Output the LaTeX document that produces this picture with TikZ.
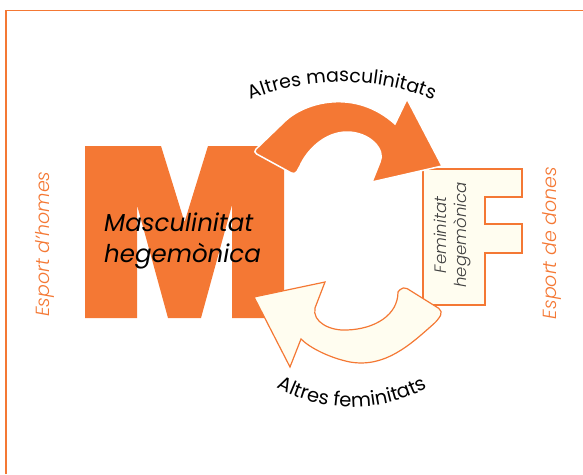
\documentclass[tikz,border=0pt]{standalone}
\usepackage{fontspec}
\setmainfont{Poppins}
\newfontfamily\poplight{Poppins Light}[ItalicFont={Poppins Light Italic}]
\usetikzlibrary{decorations.text}

\definecolor{mcorange}{RGB}{244,120,52}
\definecolor{fcream}{RGB}{255,253,240}

\tikzset{
  letterfill/.style={fill=fcream, draw=mcorange, line width=1.2pt},
  sidelabel/.style={rotate=90, inner sep=0, text=mcorange, font=\poplight\itshape\fontsize{19}{22}\selectfont},
  arclabel/.style={decorate, decoration={text along path, text align=center, text={#1}}}
}

\begin{document}
\begin{tikzpicture}[x=1pt, y=-1pt]
\useasboundingbox (0,0) rectangle (583,474);

% Frame (open to the right and bottom)
\draw[mcorange, line width=1.3pt] (6,474) -- (6,10.5) -- (583,10.5);

% Side labels
\node[sidelabel] (esphomes) at (45,244) {Esport d’homes};
\node[sidelabel] (espdones) at (552,243) {Esport de dones};

% Big letter M
\fill[mcorange] (85,318) -- (85,146) -- (161,146) -- (184.5,222) -- (208,146) -- (284,146)
  -- (284,318) -- (232,318) -- (232,205) -- (201,318) -- (168,318) -- (137,205) -- (137,318) -- cycle;

% Outlined letter F
\path[letterfill] (423,169) -- (522,169) -- (522,197) -- (485,197) -- (485,224) -- (522,224)
  -- (522,253) -- (485,253) -- (485,305) -- (423,305) -- cycle;
\node[rotate=90, align=center, inner sep=0, text=black!75, font=\poplight\itshape\fontsize{16.5}{20}\selectfont]
  (femheg) at (452,235) {Feminitat\\hegemònica};

% Upper arrow (M towards F)
\path[fill=mcorange, draw=white, line width=1.5pt]
  (300,166) [rounded corners=4pt] -- (295,175) -- (253,152) -- (282,124) [sharp corners]
  .. controls (305,102) and (355,88) .. (395,124)
  -- (407,99) -- (442,166) -- (372,182) -- (380,162)
  .. controls (386,150) and (370,132) .. (347,132)
  .. controls (325,132) and (307,150) .. (300,166) -- cycle;

% Lower arrow (F towards M)
\path[letterfill]
  (254,297) -- (325,282) -- (315,308)
  .. controls (312,322) and (330,331) .. (347,330)
  .. controls (375,329) and (398,315) .. (398,292)
  [rounded corners=5pt] -- (403,286) -- (443,311) -- (438,320) [sharp corners]
  .. controls (410,345) and (385,368) .. (350,362)
  .. controls (330,358) and (310,348) .. (301,339)
  -- (290,367) -- cycle;

% Text on the M
\node[anchor=west, align=left, inner sep=0, font=\itshape\fontsize{24.5}{31}\selectfont]
  (mascheg) at (104,241) {Masculinitat\\hegemònica};

% Curved labels
\path[arclabel={|\fontsize{19}{23}\selectfont|Altres masculinitats}]
  (342,326) ++(-112:244) arc (-112:-68:244);
\path[arclabel={|\fontsize{19.5}{23}\selectfont|Altres feminitats}]
  (352,249) ++(121.5:158) arc (121.5:58.5:158);

\end{tikzpicture}
\end{document}
